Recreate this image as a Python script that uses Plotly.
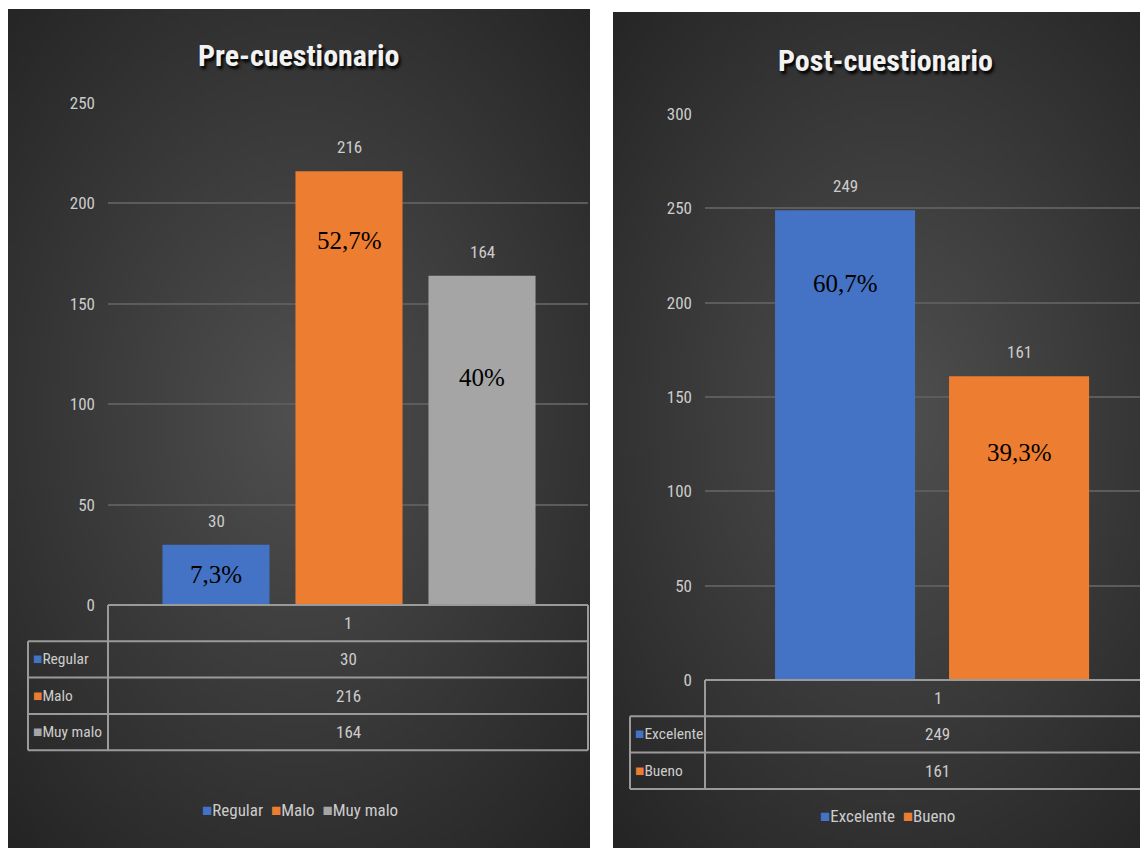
import base64, struct, zlib
import numpy as np
import plotly.graph_objects as go

# ---------------- data ----------------
pre_categories = ["Regular", "Malo", "Muy malo"]
pre_values = [30, 216, 164]
pre_percent = ["7,3%", "52,7%", "40%"]
pre_colors = ["#4472C4", "#ED7D31", "#A5A5A5"]
pre_ticks = [0, 50, 100, 150, 200, 250]

post_categories = ["Excelente", "Bueno"]
post_values = [249, 161]
post_percent = ["60,7%", "39,3%"]
post_colors = ["#4472C4", "#ED7D31"]
post_ticks = [0, 50, 100, 150, 200, 250, 300]

table_header = "1"

# ---------------- helpers ----------------
W, H = 1148, 848
OX, OY = 8, 8   # page body offset compensation
def X(px): return (px - OX) / W
def Y(py): return 1 - (py - OY) / H

FONT = "Roboto Condensed, Liberation Sans Narrow, Roboto, sans-serif"
LIGHT = "#cccccc"
LINE = "#9a9a9a"

def radial_png(w, h, inner, outer, cx=0.5, cy=0.48):
    yy, xx = np.mgrid[0:h, 0:w]
    dx = xx / (w - 1) - cx
    dy = (yy / (h - 1) - cy) * (h / w) * 0.75
    d = np.clip(np.sqrt(dx ** 2 + dy ** 2) / 0.75, 0, 1)
    inner = np.array(inner, float); outer = np.array(outer, float)
    img = inner[None, None, :] * (1 - d[..., None]) + outer[None, None, :] * d[..., None]
    img = img.astype(np.uint8)
    raw = b"".join(b"\x00" + row.tobytes() for row in img)
    def chunk(t, data):
        return struct.pack(">I", len(data)) + t + data + struct.pack(">I", zlib.crc32(t + data) & 0xffffffff)
    png = (b"\x89PNG\r\n\x1a\n" + chunk(b"IHDR", struct.pack(">IIBBBBB", w, h, 8, 2, 0, 0, 0))
           + chunk(b"IDAT", zlib.compress(raw, 9)) + chunk(b"IEND", b""))
    return "data:image/png;base64," + base64.b64encode(png).decode()

bg = radial_png(120, 170, (80, 80, 80), (36, 36, 36))

fig = go.Figure()

# ---------------- traces ----------------
for name, val, col in zip(pre_categories, pre_values, pre_colors):
    fig.add_trace(go.Bar(x=[name], y=[val], name=name, marker=dict(color=col, line=dict(width=0)),
                         xaxis="x", yaxis="y", showlegend=False, hoverinfo="x+y"))
for name, val, col in zip(post_categories, post_values, post_colors):
    fig.add_trace(go.Bar(x=[name], y=[val], name=name, marker=dict(color=col, line=dict(width=0)),
                         xaxis="x2", yaxis="y2", showlegend=False, hoverinfo="x+y"))

annotations = []
shapes = []

def ann(**kw):
    d = dict(showarrow=False, xanchor="center", yanchor="middle")
    d.update(kw)
    annotations.append(d)

# value labels above bars & percent labels inside
pre_pct_frac = [0.5, 0.84, 0.69]
post_pct_frac = [0.845, 0.75]
for cats, vals, pcts, fracs, xa, ya in [
        (pre_categories, pre_values, pre_percent, pre_pct_frac, "x", "y"),
        (post_categories, post_values, post_percent, post_pct_frac, "x2", "y2")]:
    for c, v, p, f in zip(cats, vals, pcts, fracs):
        ann(x=c, y=v, xref=xa, yref=ya, text=str(v), yanchor="bottom", yshift=12,
            font=dict(family=FONT, size=17, color=LIGHT))
        ann(x=c, y=v * f, xref=xa, yref=ya, text=p,
            font=dict(family="Liberation Serif, Times New Roman, serif", size=25, color="#000000"))

# titles
title_font = dict(family=FONT, size=30, color="#f2f2f2", shadow="2px 3px 3px #000000")
ann(x=X(298), y=Y(56), xref="paper", yref="paper", text="<b>Pre-cuestionario</b>", font=title_font)
ann(x=X(885), y=Y(60), xref="paper", yref="paper", text="<b>Post-cuestionario</b>", font=title_font)

# data tables
def table(cats, vals, cols, lab_l, val_l, val_r, top, row_h):
    n = len(cats)
    rows = [top + row_h * i for i in range(n + 2)]
    lw = dict(color=LINE, width=2)
    shapes.append(dict(type="line", xref="paper", yref="paper", x0=X(val_l), x1=X(val_r),
                       y0=Y(rows[0]), y1=Y(rows[0]), line=lw))
    for r in rows[1:]:
        shapes.append(dict(type="line", xref="paper", yref="paper", x0=X(lab_l), x1=X(val_r),
                           y0=Y(r), y1=Y(r), line=lw))
    shapes.append(dict(type="line", xref="paper", yref="paper", x0=X(lab_l), x1=X(lab_l),
                       y0=Y(rows[1]), y1=Y(rows[-1]), line=lw))
    for xv in (val_l, val_r):
        shapes.append(dict(type="line", xref="paper", yref="paper", x0=X(xv), x1=X(xv),
                           y0=Y(rows[0]), y1=Y(rows[-1]), line=lw))
    cx = (val_l + val_r) / 2
    tf = dict(family=FONT, size=17, color=LIGHT)
    lf = dict(family=FONT, size=15.5, color=LIGHT)
    ann(x=X(cx), y=Y(rows[0] + row_h / 2), xref="paper", yref="paper", text=table_header, font=tf)
    for i, (c, v, col) in enumerate(zip(cats, vals, cols)):
        yc = Y(rows[i + 1] + row_h / 2)
        ann(x=X(cx), y=yc, xref="paper", yref="paper", text=str(v), font=tf)
        ann(x=X(lab_l + 3), y=yc, xref="paper", yref="paper", xanchor="left",
            text=f"<span style='color:{col}'>■</span>{c}", font=lf)

table(pre_categories, pre_values, pre_colors, 28, 108, 588, 605, 36.3)
table(post_categories, post_values, post_colors, 630, 705, 1170, 680, 36.3)

# legends (colored square + name)
def legend(cats, cols, cx, cy):
    txt = "  ".join(f"<span style='color:{col}'>■</span>{c}" for c, col in zip(cats, cols))
    ann(x=X(cx), y=Y(cy), xref="paper", yref="paper", text=txt,
        font=dict(family=FONT, size=17, color=LIGHT))

legend(pre_categories, pre_colors, 300, 810)
legend(post_categories, post_colors, 887, 816)

images = [
    dict(source=bg, xref="paper", yref="paper", x=X(8), y=Y(9), sizex=582 / W, sizey=845 / H,
         xanchor="left", yanchor="top", sizing="stretch", layer="below"),
    dict(source=bg, xref="paper", yref="paper", x=X(613), y=Y(12), sizex=560 / W, sizey=845 / H,
         xanchor="left", yanchor="top", sizing="stretch", layer="below"),
]

yax_common = dict(showgrid=True, gridcolor="#5c5c5c", gridwidth=2, zeroline=False, showline=False,
                  tickfont=dict(family=FONT, size=17, color=LIGHT), ticks="", ticklabelstandoff=12)
xax_common = dict(type="category", showticklabels=False, showgrid=False, zeroline=False, showline=False, ticks="")

fig.update_layout(
    width=W, height=H, margin=dict(l=0, r=0, t=0, b=0, autoexpand=False),
    paper_bgcolor="white", plot_bgcolor="rgba(0,0,0,0)",
    barmode="overlay", bargap=0.195, showlegend=False,
    xaxis=dict(domain=[X(108), X(588)], range=[-0.812, 2.797], anchor="y", **xax_common),
    yaxis=dict(domain=[Y(605), Y(103)], range=[0, 250], tickvals=pre_ticks, anchor="x", **yax_common),
    xaxis2=dict(domain=[X(705), 1.0], range=[-0.805, 1.741 + 8 / 174], anchor="y2", **xax_common),
    yaxis2=dict(domain=[Y(680), Y(114)], range=[0, 300], tickvals=post_ticks, anchor="x2", **yax_common),
    annotations=annotations, shapes=shapes, images=images,
)

fig.write_html("out.html")
